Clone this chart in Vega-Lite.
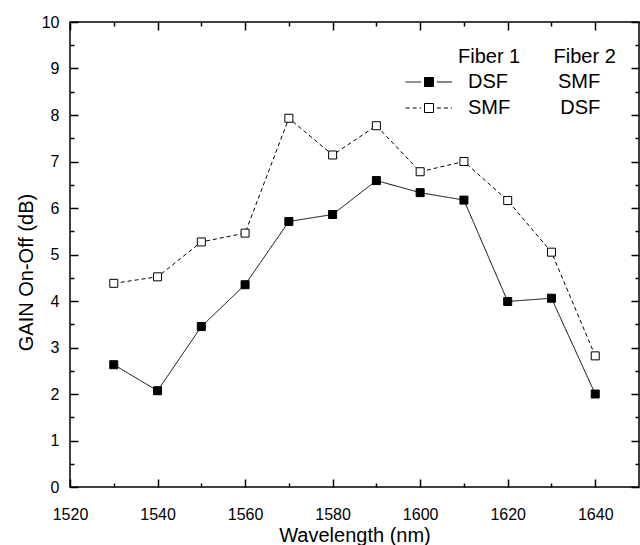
{
  "$schema": "https://vega.github.io/schema/vega-lite/v6.json",
  "autosize": {"type": "none"},
  "width": 569,
  "height": 465,
  "padding": {"left": 70, "top": 22, "right": 1, "bottom": 58},
  "background": "white",
  "config": {
    "font": "Liberation Sans",
    "view": {"stroke": "black", "strokeWidth": 1.5},
    "axis": {"grid": false, "domain": false, "tickColor": "black", "tickWidth": 1.5, "labelColor": "black", "titleColor": "black", "labelFontSize": 16, "titleFontSize": 20, "titleFontWeight": "normal", "labelFlush": false, "labelOverlap": false, "labelFont": "Liberation Sans", "titleFont": "Liberation Sans", "format": "d", "zindex": 1},
    "legend": {"labelFont": "Liberation Sans", "titleFont": "Liberation Sans", "labelFontSize": 20, "titleFontSize": 20, "titleFontWeight": "normal", "labelColor": "black", "titleColor": "black", "padding": 0}
  },
  "data": {
    "values": [
      {"wavelength": 1530, "gain": 2.63, "fiber1": "DSF", "fiber2": "SMF"},
      {"wavelength": 1540, "gain": 2.07, "fiber1": "DSF", "fiber2": "SMF"},
      {"wavelength": 1550, "gain": 3.45, "fiber1": "DSF", "fiber2": "SMF"},
      {"wavelength": 1560, "gain": 4.35, "fiber1": "DSF", "fiber2": "SMF"},
      {"wavelength": 1570, "gain": 5.71, "fiber1": "DSF", "fiber2": "SMF"},
      {"wavelength": 1580, "gain": 5.86, "fiber1": "DSF", "fiber2": "SMF"},
      {"wavelength": 1590, "gain": 6.59, "fiber1": "DSF", "fiber2": "SMF"},
      {"wavelength": 1600, "gain": 6.33, "fiber1": "DSF", "fiber2": "SMF"},
      {"wavelength": 1610, "gain": 6.17, "fiber1": "DSF", "fiber2": "SMF"},
      {"wavelength": 1620, "gain": 3.99, "fiber1": "DSF", "fiber2": "SMF"},
      {"wavelength": 1630, "gain": 4.06, "fiber1": "DSF", "fiber2": "SMF"},
      {"wavelength": 1640, "gain": 2.0, "fiber1": "DSF", "fiber2": "SMF"},
      {"wavelength": 1530, "gain": 4.38, "fiber1": "SMF", "fiber2": "DSF"},
      {"wavelength": 1540, "gain": 4.52, "fiber1": "SMF", "fiber2": "DSF"},
      {"wavelength": 1550, "gain": 5.27, "fiber1": "SMF", "fiber2": "DSF"},
      {"wavelength": 1560, "gain": 5.46, "fiber1": "SMF", "fiber2": "DSF"},
      {"wavelength": 1570, "gain": 7.93, "fiber1": "SMF", "fiber2": "DSF"},
      {"wavelength": 1580, "gain": 7.14, "fiber1": "SMF", "fiber2": "DSF"},
      {"wavelength": 1590, "gain": 7.77, "fiber1": "SMF", "fiber2": "DSF"},
      {"wavelength": 1600, "gain": 6.78, "fiber1": "SMF", "fiber2": "DSF"},
      {"wavelength": 1610, "gain": 7.0, "fiber1": "SMF", "fiber2": "DSF"},
      {"wavelength": 1620, "gain": 6.16, "fiber1": "SMF", "fiber2": "DSF"},
      {"wavelength": 1630, "gain": 5.05, "fiber1": "SMF", "fiber2": "DSF"},
      {"wavelength": 1640, "gain": 2.82, "fiber1": "SMF", "fiber2": "DSF"}
    ]
  },
  "resolve": {"axis": {"x": "independent", "y": "independent"}},
  "layer": [
    {
      "mark": {"type": "line", "color": "black", "strokeWidth": 1},
      "encoding": {
        "x": {"field": "wavelength", "type": "quantitative", "scale": {"domain": [1520, 1650], "nice": false, "zero": false},
          "axis": {"orient": "bottom", "values": [1520, 1540, 1560, 1580, 1600, 1620, 1640], "tickSize": 8, "offset": -8, "labelPadding": 19, "title": "Wavelength (nm)", "titlePadding": 3}},
        "y": {"field": "gain", "type": "quantitative", "scale": {"domain": [0, 10], "nice": false, "zero": false},
          "axis": {"orient": "left", "values": [0, 1, 2, 3, 4, 5, 6, 7, 8, 9, 10], "tickSize": 8, "offset": -8, "labelPadding": 11, "title": "GAIN On-Off (dB)", "titlePadding": 5, "titleY": 250}},
        "detail": {"field": "fiber1"},
        "strokeDash": {"field": "fiber2", "type": "nominal", "sort": "descending",
          "scale": {"range": [[1, 0], [4, 3]]},
          "legend": {"orient": "none", "legendX": 388, "legendY": 25, "title": "Fiber 1\u00a0\u00a0\u00a0\u00a0\u00a0\u00a0Fiber 2", "titleOpacity": 0, "labelOpacity": 0, "labelExpr": "''", "symbolType": "M-5.2,0H-1.75M1.75,0H5.1", "symbolSize": 81, "symbolStrokeWidth": 1, "symbolStrokeColor": "black", "symbolOffset": -39, "labelOffset": 29, "rowPadding": 6, "titlePadding": 5}}
      }
    },
    {
      "mark": {"type": "point", "shape": "square", "size": 64, "filled": true, "stroke": "black", "strokeWidth": 1, "opacity": 1},
      "encoding": {
        "x": {"field": "wavelength", "type": "quantitative",
          "axis": {"orient": "bottom", "values": [1530, 1550, 1570, 1590, 1610, 1630], "tickSize": 4, "offset": -4, "labels": false, "title": null}},
        "y": {"field": "gain", "type": "quantitative",
          "axis": {"orient": "left", "values": [0.5, 1.5, 2.5, 3.5, 4.5, 5.5, 6.5, 7.5, 8.5, 9.5], "tickSize": 4, "offset": -4, "labels": false, "title": null}},
        "fill": {"field": "fiber1", "type": "nominal", "scale": {"domain": ["DSF", "SMF"], "range": ["black", "white"]},
          "legend": {"orient": "none", "legendX": 388, "legendY": 25, "title": "Fiber 1\u00a0\u00a0\u00a0\u00a0\u00a0\u00a0Fiber 2",
            "labelExpr": "datum.label == 'DSF' ? 'DSF\u00a0\u00a0\u00a0\u00a0\u00a0\u00a0\u00a0\u00a0\u00a0SMF' : 'SMF\u00a0\u00a0\u00a0\u00a0\u00a0\u00a0\u00a0\u00a0\u00a0DSF'",
            "symbolType": "square", "symbolSize": 81, "symbolStrokeWidth": 1, "symbolStrokeColor": "black", "symbolOffset": -39, "labelOffset": 29, "rowPadding": 6, "titlePadding": 5}}
      }
    },
    {
      "mark": {"type": "point", "opacity": 0},
      "encoding": {
        "x": {"field": "wavelength", "type": "quantitative",
          "axis": {"orient": "top", "values": [1520, 1540, 1560, 1580, 1600, 1620, 1640], "tickSize": 8, "offset": -8, "labels": false, "title": null}},
        "y": {"field": "gain", "type": "quantitative",
          "axis": {"orient": "right", "values": [0, 1, 2, 3, 4, 5, 6, 7, 8, 9, 10], "tickSize": 8, "offset": -8, "labels": false, "title": null}}
      }
    },
    {
      "mark": {"type": "point", "opacity": 0},
      "encoding": {
        "x": {"field": "wavelength", "type": "quantitative",
          "axis": {"orient": "top", "values": [1530, 1550, 1570, 1590, 1610, 1630], "tickSize": 4, "offset": -4, "labels": false, "title": null}},
        "y": {"field": "gain", "type": "quantitative",
          "axis": {"orient": "right", "values": [0.5, 1.5, 2.5, 3.5, 4.5, 5.5, 6.5, 7.5, 8.5, 9.5], "tickSize": 4, "offset": -4, "labels": false, "title": null}}
      }
    }
  ]
}
